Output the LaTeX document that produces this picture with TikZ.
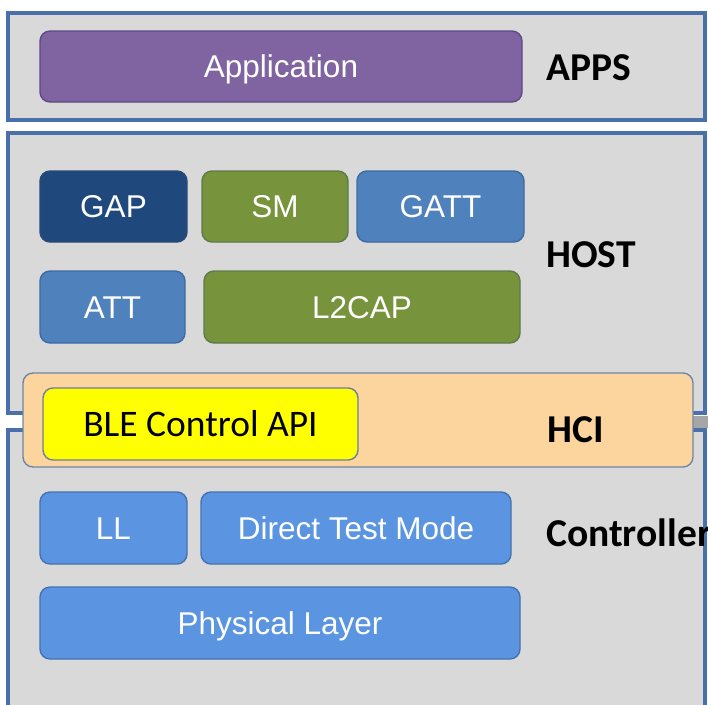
\documentclass[tikz,border=0pt]{standalone}
\usepackage{fontspec}
\setmainfont{Liberation Sans}
\newfontfamily\boxfont{Liberation Sans}
\newfontfamily\labelfont{Carlito}
\newfontfamily\apifont{Carlito}

\definecolor{frameblue}{HTML}{4A70AC}
\definecolor{panelgray}{HTML}{D9D9D9}
\definecolor{apppurple}{HTML}{8064A2}
\definecolor{appedge}{HTML}{5E4A86}
\definecolor{gapblue}{HTML}{1F497D}
\definecolor{gapedge}{HTML}{2A4A75}
\definecolor{olive}{HTML}{77933C}
\definecolor{oliveedge}{HTML}{5E7A4A}
\definecolor{midblue}{HTML}{4F81BD}
\definecolor{midedge}{HTML}{3F6AA0}
\definecolor{ctrlblue}{HTML}{5B95E2}
\definecolor{ctrledge}{HTML}{4472B0}
\definecolor{hciorange}{HTML}{FCD59E}
\definecolor{hciedge}{HTML}{6F86A8}
\definecolor{apiyellow}{HTML}{FFFF00}
\definecolor{apiedge}{HTML}{6D7F9B}
\definecolor{linkgray}{HTML}{A6A6A6}

\begin{document}
\begin{tikzpicture}[x=1pt,y=-1pt,
  block/.style={draw, line width=1.4pt, rounded corners=10pt, inner sep=0pt,
    text=white, text height=22.5pt, text depth=0pt,
    font=\boxfont\fontsize{31.5}{33}\selectfont},
  layerlabel/.style={anchor=west, inner sep=0pt,
    font=\labelfont\bfseries\fontsize{39.5}{42}\selectfont},
  panel/.style={fill=panelgray, draw=frameblue, line width=4pt}
]
\useasboundingbox (0,0) rectangle (708,704);
\fill[white] (0,0) rectangle (708,704);

% layer frames
\draw[panel] (8,13) rectangle (705,120);
\draw[panel] (8,133) rectangle (705,413);
\fill[panelgray] (8,430) rectangle (705,712);
\draw[frameblue, line width=4pt] (8,712) -- (8,430) -- (705,430) -- (705,712);

% link bar between HOST and Controller frames, leaving the HCI band
\fill[linkgray] (692,415.5) rectangle (708,428);

% APPS layer
\node[block, fill=apppurple, draw=appedge, minimum width=482pt, minimum height=71pt]
  (app) at (281,66.5) {Application};
\node[layerlabel] (apps) at (546,68) {APPS};

% HOST layer
\node[block, fill=gapblue, draw=gapedge, minimum width=147pt, minimum height=71pt]
  (gap) at (113.5,206.5) {GAP};
\node[block, fill=olive, draw=oliveedge, minimum width=146pt, minimum height=71pt]
  (sm) at (275,206.5) {SM};
\node[block, fill=midblue, draw=midedge, minimum width=167pt, minimum height=71pt]
  (gatt) at (440.5,206.5) {GATT};
\node[block, fill=midblue, draw=midedge, minimum width=145pt, minimum height=72pt]
  (att) at (112.5,307) {ATT};
\node[block, fill=olive, draw=oliveedge, minimum width=316pt, minimum height=72pt]
  (l2cap) at (362,307) {L2CAP};
\node[layerlabel] (host) at (546,255) {HOST};

% HCI band
\node[block, fill=hciorange, draw=hciedge, minimum width=670pt, minimum height=94pt]
  (hci) at (358,420) {};
\node[block, fill=apiyellow, draw=apiedge, text=black, text height=24pt,
  font=\apifont\fontsize{37.5}{40}\selectfont,
  minimum width=315pt, minimum height=72pt]
  (api) at (200.5,424) {BLE Control API};
\node[layerlabel] (hcilabel) at (547,430) {HCI};

% Controller layer
\node[block, fill=ctrlblue, draw=ctrledge, minimum width=147pt, minimum height=72pt]
  (ll) at (113.5,528) {LL};
\node[block, fill=ctrlblue, draw=ctrledge, minimum width=310pt, minimum height=72pt]
  (dtm) at (356,528) {Direct Test Mode};
\node[block, fill=ctrlblue, draw=ctrledge, minimum width=480pt, minimum height=72pt]
  (phy) at (280,623) {Physical Layer};
\node[layerlabel] (ctrl) at (546,533) {Controller};
\end{tikzpicture}
\end{document}
